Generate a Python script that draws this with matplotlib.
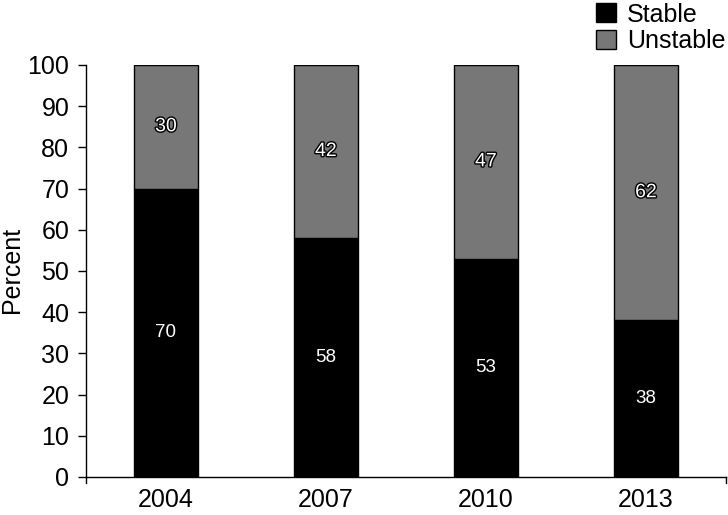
import matplotlib
matplotlib.use("Agg")
import matplotlib.pyplot as plt
import matplotlib.patheffects as pe
from matplotlib.patches import Patch

plt.rcParams['font.family'] = ['Liberation Sans', 'DejaVu Sans']

years = ['2004', '2007', '2010', '2013']
stable = [70, 58, 53, 38]
unstable = [30, 42, 47, 62]

W, H = 728, 515
fig = plt.figure(figsize=(W / 100, H / 100), dpi=100)
ax = fig.add_axes([86 / W, (H - 477) / H, (726 - 86) / W, (477 - 65) / H])

x = range(len(years))
ax.bar(x, stable, width=0.4, color='black', edgecolor='black', linewidth=1, label='Stable')
ax.bar(x, unstable, bottom=stable, width=0.4, color='#777777', edgecolor='black', linewidth=1, label='Unstable')

for i, (s, u) in enumerate(zip(stable, unstable)):
    ax.text(i, s / 2, str(s), ha='center', va='center', color='white', fontsize=13.5)
    t = ax.text(i, s + u / 2, str(u), ha='center', va='center', color='white', fontsize=14)
    t.set_path_effects([pe.withStroke(linewidth=2, foreground='black')])

ax.set_xlim(-0.5, 3.5)
ax.set_ylim(0, 100)
ax.set_yticks(range(0, 101, 10))
ax.set_xticks(list(x))
ax.set_xticklabels(years)
ax.tick_params(axis='y', direction='out', length=6, width=1, labelsize=18, pad=6)
ax.tick_params(axis='x', length=0, labelsize=18, pad=8)
ax.spines['top'].set_visible(False)
ax.spines['right'].set_visible(False)
for s in ('left', 'bottom'):
    ax.spines[s].set_linewidth(1)

fig.text(12 / W, (H - 270) / H, 'Percent', rotation=90, fontsize=18,
         ha='center', va='center')

# small end ticks on the x axis
for xe in (0.0, 1.0):
    ax.plot([xe, xe], [0, -0.014], transform=ax.transAxes, color='black', lw=1, clip_on=False)

handles = [Patch(facecolor='black', edgecolor='black', label='Stable'),
           Patch(facecolor='#777777', edgecolor='black', label='Unstable')]
fig.legend(handles=handles, loc='upper right', bbox_to_anchor=(1.0, 1.0),
           frameon=False, fontsize=18, handlelength=0.8, handleheight=0.8,
           handletextpad=0.45, labelspacing=0.12, borderpad=0.05, borderaxespad=0.05)

fig.savefig('out.png', dpi=100)
